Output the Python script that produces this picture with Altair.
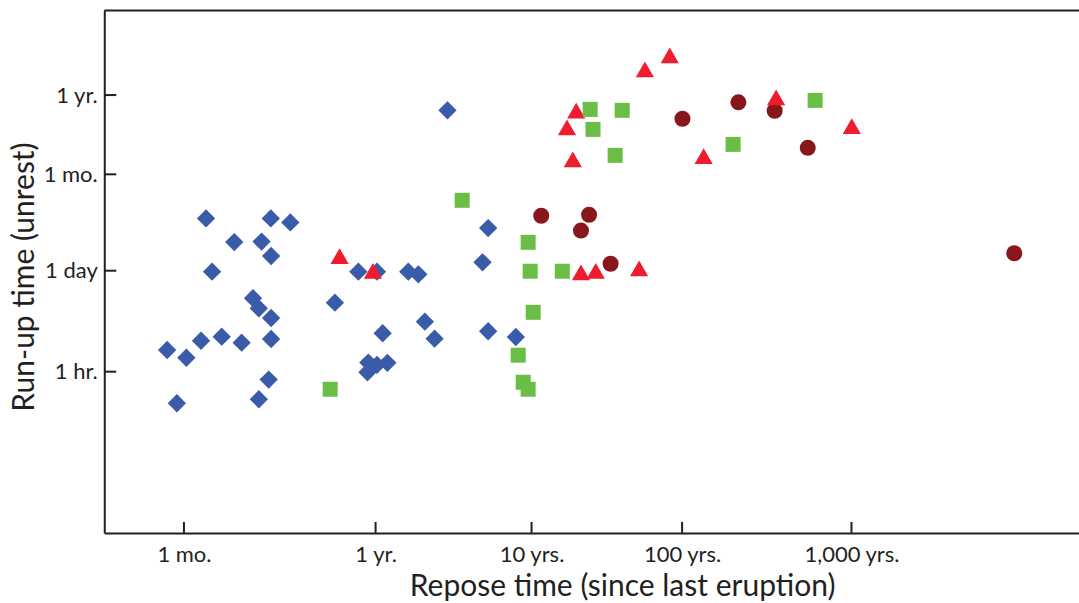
import altair as alt
import pandas as pd

# ---- data (repose time in years, run-up time in hours) ----
blue_repose = [0.067, 0.086, 0.104, 0.136, 0.176, 0.258, 0.076, 0.220, 0.250,
               0.204, 0.220, 0.258, 0.120, 0.160, 0.228, 0.258, 0.111, 0.257,
               0.331, 0.59, 0.80, 1.02, 1.62, 1.88, 1.11, 2.07, 2.39, 0.91,
               0.90, 1.02, 1.19, 2.89, 4.85, 5.27, 5.27, 7.93]
blue_runup = [1.98, 1.55, 2.65, 3.01, 2.49, 2.80, 0.37, 0.42, 0.78,
              10.1, 7.35, 5.42, 23.3, 66, 67, 40.3, 152, 152,
              132, 8.77, 23.3, 23.3, 23.3, 21.4, 3.35, 4.83, 2.83, 1.33,
              0.98, 1.24, 1.32, 5410, 32.3, 108, 3.57, 2.98]

green_repose = [0.555, 3.59, 9.51, 9.80, 10.25, 8.21, 8.84, 9.51, 16.0, 24.5,
                25.6, 40.0, 35.9, 200, 610]
green_runup = [0.575, 288, 65.4, 23.6, 6.48, 1.68, 0.717, 0.575, 23.6, 5580,
               2970, 5410, 1310, 1850, 7410]

red_repose = [0.627, 0.966, 19.8, 17.2, 18.8, 56.6, 82.8, 21.3, 26.7, 51.8,
              134, 359, 1004]
red_runup = [40.3, 23.8, 5380, 3170, 1155, 19700, 30600, 22.8, 23.8, 26.1,
             1280, 8150, 3300]

dark_repose = [11.6, 24.1, 21.3, 33.5, 100.5, 215, 352, 552, 9120]
dark_runup = [167, 173, 99, 30.7, 4150, 6960, 5340, 1660, 44.4]

x_tick_values = [1 / 12, 1, 10, 100, 1000]
x_tick_labels = ["1 mo.", "1 yr.", "10 yrs.", "100 yrs.", "1,000 yrs."]
y_tick_values = [1, 24, 720, 8760]
y_tick_labels = ["1 hr.", "1 day", "1 mo.", "1 yr."]

# ---- layout ----
W, H = 975, 522.5
INK = "#231f20"
FONT = "Lato"

# piecewise log scales (hand-drawn axis spacing of the original)
x_scale = alt.Scale(type="log", nice=False, zero=False,
                    domain=[0.02966] + x_tick_values + [21970],
                    range=[0, 79.7, 271.4, 427.4, 578.0, 747.4, W])
y_scale = alt.Scale(type="log", nice=False, zero=False,
                    domain=[0.00626] + y_tick_values + [125400],
                    range=[H, 361.2, 260.2, 163.8, 84.5, 0])

x_expr = " : ".join(
    f"datum.value < {v * 1.5} ? '{l}'" for v, l in zip(x_tick_values[:-1], x_tick_labels[:-1])
) + f" : '{x_tick_labels[-1]}'"
y_expr = " : ".join(
    f"datum.value < {v * 1.5} ? '{l}'" for v, l in zip(y_tick_values[:-1], y_tick_labels[:-1])
) + f" : '{y_tick_labels[-1]}'"

x_axis = alt.Axis(values=x_tick_values, labelExpr=x_expr, ticks=False, grid=False,
                  domain=True, domainColor=INK, domainWidth=2,
                  labelFont=FONT, labelFontSize=22, labelColor=INK, labelPadding=12,
                  labelFlush=False, labelOverlap=False,
                  title="Repose time (since last eruption)", titleFont=FONT,
                  titleFontSize=30, titleFontWeight="normal", titleColor=INK,
                  titleX=518, titleY=63, titleAlign="center", titleBaseline="alphabetic",
                  titleAnchor="start")
y_axis = alt.Axis(values=y_tick_values, labelExpr=y_expr, ticks=False, grid=False,
                  domain=True, domainColor=INK, domainWidth=2,
                  labelFont=FONT, labelFontSize=22, labelColor=INK, labelPadding=7,
                  labelFlush=False, labelOverlap=False,
                  title="Run-up time (unrest)", titleFont=FONT, titleFontSize=30,
                  titleFontWeight="normal", titleColor=INK,
                  titleX=-71, titleY=266, titleAngle=-90, titleAlign="center",
                  titleBaseline="alphabetic", titleAnchor="start")


def X():
    return alt.X("repose:Q", scale=x_scale, axis=x_axis)


def Y():
    return alt.Y("runup:Q", scale=y_scale, axis=y_axis)


def series(rep, run, shape, color, size):
    df = pd.DataFrame({"repose": rep, "runup": run})
    return alt.Chart(df).mark_point(shape=shape, filled=True, opacity=1,
                                    size=size, color=color).encode(x=X(), y=Y())


blue = series(blue_repose, blue_runup, "diamond", "#3a5ba8", 336)
dark = series(dark_repose, dark_runup, "circle", "#88171b", 256)
red = series(red_repose, red_runup, "triangle-up", "#ed1c2e", 330)
green = series(green_repose, green_runup, "square", "#6abd45", 225)

xt = alt.Chart(pd.DataFrame({"repose": x_tick_values})).mark_rule(
    color=INK, strokeWidth=2
).encode(x=X(), y=alt.value(H), y2=alt.value(H - 11))
yt = alt.Chart(pd.DataFrame({"runup": y_tick_values})).mark_rule(
    color=INK, strokeWidth=2
).encode(y=Y(), x=alt.value(0), x2=alt.value(12))
top = alt.Chart(pd.DataFrame({"a": [0]})).mark_rule(color=INK, strokeWidth=2).encode(
    x=alt.value(0), x2=alt.value(W), y=alt.value(0)
)

chart = alt.layer(blue, xt, yt, top, dark, red, green).properties(
    width=W, height=H,
    autosize=alt.AutoSizeParams(type="none"),
    padding={"left": 104.3, "top": 10.5, "right": 0, "bottom": 70},
    background="white",
).configure_view(stroke=None)

chart.save("out.html", embed_options={"renderer": "svg", "actions": False})
